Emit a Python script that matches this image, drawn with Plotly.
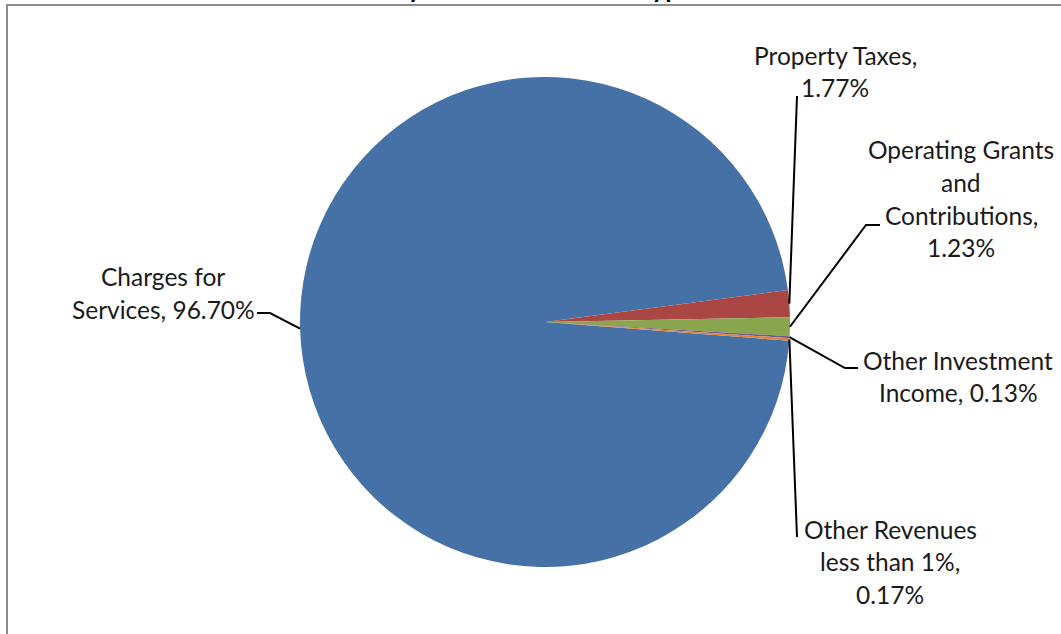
import plotly.graph_objects as go
import numpy as np

W, H = 1061, 634

# ---- data ----
categories = [
    "Charges for Services",
    "Property Taxes",
    "Operating Grants and Contributions",
    "Other Investment Income",
    "Other Revenues less than 1%",
]
percentages = [96.70, 1.77, 1.23, 0.13, 0.17]
label_templates = [
    ["Charges for", "Services, {p}"],
    ["Property Taxes,", "{p}"],
    ["Operating Grants", "and", "Contributions,", "{p}"],
    ["Other Investment", "Income, {p}"],
    ["Other Revenues", "less than 1%,", "{p}"],
]
colors = ["#4571A7", "#AA4643", "#89A54E", "#71588F", "#DB843D"]
title_text = "Revenues by Source - Business-Type Activities"

# ---- layout constants (pixels) ----
CX, CY, R = 545, 322, 245
ROTATION = 94.4          # bearing of first slice edge, clockwise from 12 o'clock
FONT = "Lato"
FS = 24.5
LINE_H = 32.5

# label block: (center x, first line y)
label_pos = [(163, 277), (835, 55), (961, 150), (958, 360), (890, 529)]
# leader line waypoints after the slice edge point
leader_pts = [
    [(270, 313), (257, 313)],
    [(797, 96)],
    [(866, 225), (880, 225)],
    [(845, 368), (858, 368)],
    [(797, 537)],
]


def px(x):
    return x / W


def py(y):
    return 1 - y / H


fig = go.Figure(
    go.Pie(
        labels=categories,
        values=percentages,
        sort=False,
        direction="clockwise",
        rotation=ROTATION,
        textinfo="none",
        hoverinfo="label+percent",
        marker=dict(colors=colors, line=dict(width=0)),
        domain=dict(x=[px(CX - R), px(CX + R)], y=[py(CY + R), py(CY - R)]),
        showlegend=False,
    )
)

annotations = []
shapes = []

# chart area frame
shapes.append(dict(type="rect", xref="paper", yref="paper",
                   x0=px(7), x1=px(W + 40), y0=py(H + 40), y1=py(5),
                   line=dict(color="#8c8c8c", width=2), fillcolor="rgba(0,0,0,0)"))

# data labels and leader lines
total = sum(percentages)
start = ROTATION
for vals, tmpl, (lx, ly), pts in zip(percentages, label_templates, label_pos, leader_pts):
    mid = np.radians(start + 360 * vals / total / 2)
    start += 360 * vals / total
    ex, ey = CX + R * np.sin(mid), CY - R * np.cos(mid)
    path = f"M {px(ex)},{py(ey)}" + "".join(f" L {px(x)},{py(y)}" for x, y in pts)
    shapes.append(dict(type="path", xref="paper", yref="paper", path=path,
                       line=dict(color="#000000", width=2)))
    for k, line in enumerate(tmpl):
        annotations.append(dict(
            x=px(lx), y=py(ly + k * LINE_H), xref="paper", yref="paper",
            text=line.format(p=f"{vals:.2f}%"), showarrow=False,
            xanchor="center", yanchor="middle",
            font=dict(family=FONT, size=FS, color="#1a1a1a"),
        ))

# chart title (mostly above the top edge of the page)
annotations.append(dict(
    x=px(542), y=py(-12), xref="paper", yref="paper",
    text=f"<b>{title_text}</b>", showarrow=False,
    xanchor="center", yanchor="middle",
    font=dict(family=FONT, size=26, color="#000000"),
))

fig.update_layout(
    width=W, height=H,
    margin=dict(l=0, r=0, t=0, b=0),
    paper_bgcolor="white",
    plot_bgcolor="white",
    shapes=shapes,
    annotations=annotations,
)

fig.write_html("out.html")
